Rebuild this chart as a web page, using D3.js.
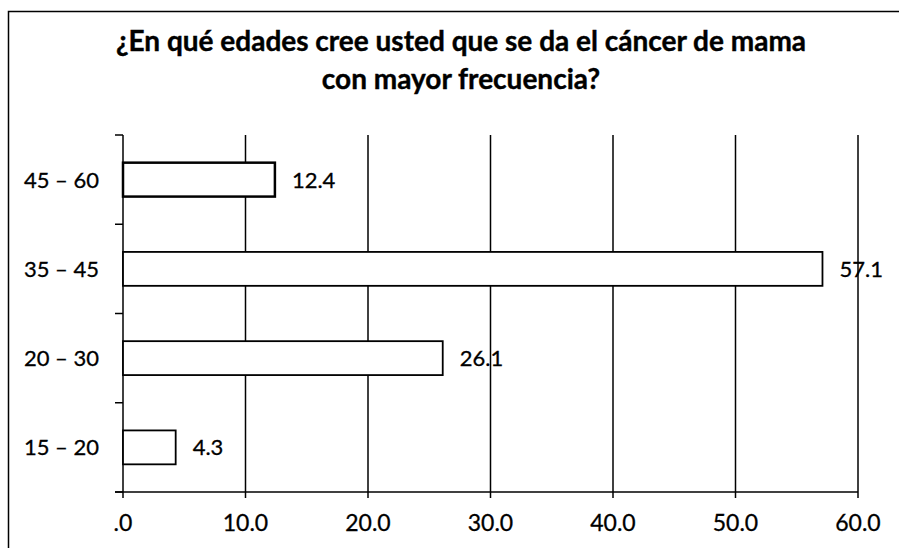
<!DOCTYPE html>
<html>
<head>
<meta charset="utf-8">
<script src="https://cdn.jsdelivr.net/npm/d3@7"></script>
<style>
  body { margin: 0; background: #fff; }
  svg text { font-family: Lato, "Open Sans", sans-serif; fill: #000; }
</style>
</head>
<body>
<svg id="chart" width="899" height="548"></svg>
<script>
const titleLines = ["¿En qué edades cree usted que se da el cáncer de mama", "con mayor frecuencia?"];
const categories = ["45 – 60", "35 – 45", "20 – 30", "15 – 20"];
const values = [12.4, 57.1, 26.1, 4.3];
const xTicks = [0, 10, 20, 30, 40, 50, 60];
const xTickLabels = [".0", "10.0", "20.0", "30.0", "40.0", "50.0", "60.0"];

const svg = d3.select("#chart");
const plot = { left: 123, right: 858, top: 135, bottom: 492 };

// outer frame (top and left edges only are visible)
svg.append("path")
    .attr("d", "M8.5,548 L8.5,11.5 L899,11.5")
    .attr("fill", "none")
    .attr("stroke", "#000")
    .attr("stroke-width", 1.5);

svg.append("g").selectAll("text")
    .data(titleLines)
    .enter().append("text")
    .attr("x", 461)
    .attr("y", (d, i) => 51 + i * 38)
    .attr("text-anchor", "middle")
    .attr("font-size", 28)
    .attr("font-weight", "bold")
    .attr("stroke", "#000")
    .attr("stroke-width", 0.4)
    .text(d => d);

const x = d3.scaleLinear().domain([0, 60]).range([plot.left, plot.right]);
const y = d3.scaleBand().domain(categories).range([plot.top, plot.bottom]).paddingInner(0.62).paddingOuter(0.31);
const yEdge = d3.scaleLinear().domain([0, categories.length]).range([plot.top, plot.bottom]);

// vertical gridlines
svg.append("g").selectAll("line")
    .data(xTicks.slice(1))
    .enter().append("line")
    .attr("x1", d => x(d)).attr("x2", d => x(d))
    .attr("y1", plot.top).attr("y2", plot.bottom + 6)
    .attr("stroke", "#000")
    .attr("stroke-width", 1.5);

// left axis with category separators
svg.append("line")
    .attr("x1", plot.left).attr("x2", plot.left)
    .attr("y1", plot.top).attr("y2", plot.bottom + 6)
    .attr("stroke", "#000").attr("stroke-width", 1.5);
svg.append("g").selectAll("line")
    .data(d3.range(categories.length + 1))
    .enter().append("line")
    .attr("x1", plot.left - 8).attr("x2", plot.left)
    .attr("y1", d => yEdge(d)).attr("y2", d => yEdge(d))
    .attr("stroke", "#000").attr("stroke-width", 1.5);

// bottom axis
svg.append("line")
    .attr("x1", plot.left - 8).attr("x2", plot.right)
    .attr("y1", plot.bottom).attr("y2", plot.bottom)
    .attr("stroke", "#000").attr("stroke-width", 1.5);

svg.append("g").selectAll("text")
    .data(xTicks)
    .enter().append("text")
    .attr("x", d => x(d))
    .attr("y", 531)
    .attr("text-anchor", "middle")
    .attr("font-size", 23)
    .attr("stroke", "#000")
    .attr("stroke-width", 0.3)
    .text((d, i) => xTickLabels[i]);

svg.append("g").selectAll("text")
    .data(categories)
    .enter().append("text")
    .attr("x", 99)
    .attr("y", d => y(d) + y.bandwidth() / 2 + 8)
    .attr("text-anchor", "end")
    .attr("font-size", 22)
    .attr("stroke", "#000")
    .attr("stroke-width", 0.3)
    .text(d => d);

// bars
svg.append("g").selectAll("rect")
    .data(values)
    .enter().append("rect")
    .attr("x", x(0))
    .attr("y", (d, i) => y(categories[i]))
    .attr("width", d => x(d) - x(0))
    .attr("height", y.bandwidth())
    .attr("fill", "#fff")
    .attr("stroke", "#000")
    .attr("stroke-width", (d, i) => i === 0 ? 2.5 : 1.8);

svg.append("g").selectAll("text")
    .data(values)
    .enter().append("text")
    .attr("x", d => x(d) + 17)
    .attr("y", (d, i) => y(categories[i]) + y.bandwidth() / 2 + 8)
    .attr("font-size", 22)
    .attr("stroke", "#000")
    .attr("stroke-width", 0.3)
    .text(d => d.toFixed(1));
</script>
</body>
</html>
